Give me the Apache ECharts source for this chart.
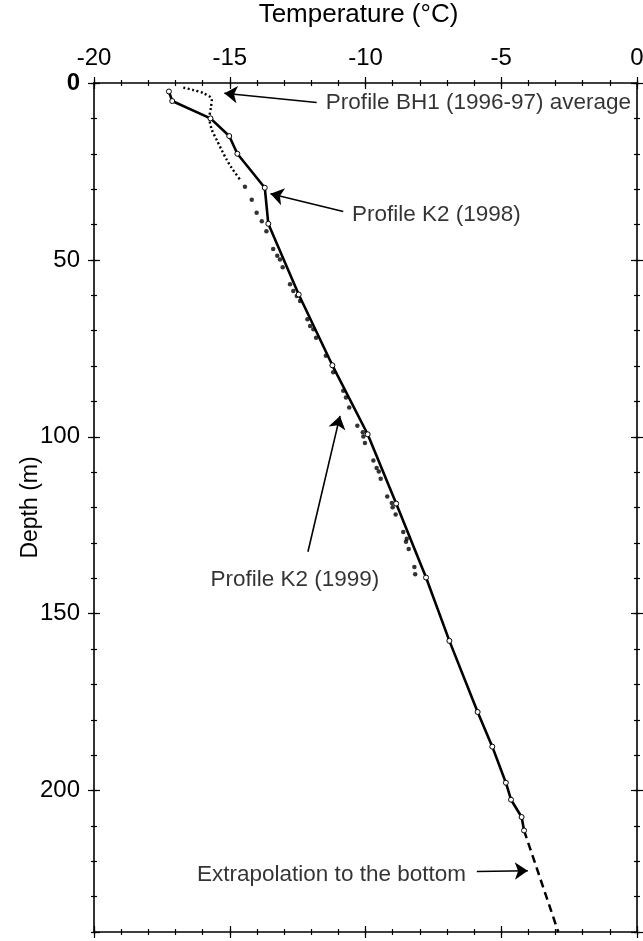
<!DOCTYPE html>
<html>
<head>
<meta charset="utf-8">
<script src="https://cdn.jsdelivr.net/npm/echarts@6/dist/echarts.min.js"></script>
<style>
  html, body { margin: 0; padding: 0; background: #fff; }
  #chart { width: 643px; height: 941px; }
</style>
</head>
<body>
<div id="chart"></div>
<script>
// temperature (°C) vs depth (m)
const k2_1998_temp  = [-17.24, -17.12, -15.71, -15.02, -14.72, -13.71, -13.58, -12.46, -11.22, -9.92, -8.87, -7.77, -6.91, -5.87, -5.33, -4.83, -4.64, -4.25, -4.16];
const k2_1998_depth = [2.4, 5.1, 10, 15, 20, 29.6, 39.8, 59.8, 79.8, 99.3, 118.9, 139.8, 157.7, 177.8, 187.6, 197.8, 202.6, 207.5, 211.3];

const extrap_temp  = [-4.16, -2.9];
const extrap_depth = [211.3, 240];

const bh1_temp  = [-16.71, -16.34, -15.97, -15.66, -15.69, -15.75, -15.66, -15.48, -15.30, -15.11, -14.93, -14.62];
const bh1_depth = [1.3, 2.0, 2.9, 4.6, 6.7, 9.9, 13.2, 16.1, 18.9, 21.7, 24.0, 27.3];

const k2_1999_temp = [-14.44, -14.19, -14.01, -13.82, -13.65, -13.40, -13.25, -13.15, -13.05, -12.78, -12.66, -12.53, -12.41,
  -12.14, -12.04, -11.92, -11.82, -11.46, -11.19, -10.82, -10.72, -10.60, -10.30, -10.10, -10.08, -10.02, -9.71, -9.59,
  -9.51, -9.44, -9.20, -9.03, -9.00, -8.89, -8.61, -8.48, -8.51, -8.41, -8.20, -8.17];
const k2_1999_depth = [29.3, 33.0, 36.7, 39.1, 41.9, 46.9, 48.8, 49.9, 52.1, 56.9, 58.8, 60.2, 61.6,
  66.8, 68.7, 69.6, 72.0, 77.1, 81.8, 87.0, 88.9, 91.7, 96.9, 98.7, 99.9, 101.8, 106.7, 108.8,
  109.8, 111.9, 116.9, 118.7, 119.9, 122.0, 126.9, 128.8, 129.7, 131.7, 136.8, 138.9];

// annotations: text anchor and arrow tail -> head, in data units
const noteText  = ['Profile BH1 (1996-97) average', 'Profile K2 (1998)', 'Profile K2 (1999)', 'Extrapolation to the bottom'];
const noteAt    = [[-11.46, 5.6], [-10.50, 37.2], [-12.60, 140.4], [-6.30, 223.7]];
const noteAlign = ['left', 'left', 'center', 'right'];
const arrowFrom = [[-11.80, 5.5], [-10.82, 36.3], [-12.12, 132.5], [-5.90, 222.9]];
const arrowTo   = [[-15.20, 2.9], [-13.50, 31.3], [-10.94, 94.1], [-4.02, 222.7]];

const FONT = 'Liberation Sans, Arial, Helvetica, sans-serif';
const zip = (a, b) => a.map((v, i) => [v, b[i]]);

const chart = echarts.init(document.getElementById('chart'));

// extra axes that only draw ticks (to get ticks crossing the frame)
function tickAxis(pos, min, max, step, len, inside) {
  return {
    type: 'value', position: pos, min: min, max: max, interval: step,
    inverse: pos === 'left' || pos === 'right',
    axisLine: { show: false, onZero: false },
    axisLabel: { show: false },
    splitLine: { show: false },
    axisTick: { show: true, length: len, inside: inside, lineStyle: { color: '#000', width: 1.2 } }
  };
}

const frameLine = { show: true, onZero: false, lineStyle: { color: '#000', width: 1.6 } };

const xAxes = [
  {
    type: 'value', position: 'top', min: -20, max: 0, interval: 5,
    name: 'Temperature (°C)', nameLocation: 'middle', nameGap: 55, nameMoveOverlap: false,
    nameTextStyle: { fontFamily: FONT, fontSize: 26, color: '#000', padding: [0, 14, 0, 0] },
    axisLine: frameLine,
    axisTick: { show: true, length: 6, lineStyle: { color: '#000', width: 1.2 } },
    axisLabel: { fontFamily: FONT, fontSize: 24, color: '#000', margin: 13 },
    splitLine: { show: false }
  },
  tickAxis('top', -20, 0, 5, 6, true),
  tickAxis('top', -20, 0, 1, 3, true),
  tickAxis('top', -20, 0, 1, 3, false),
  Object.assign(tickAxis('bottom', -20, 0, 5, 6, false), { axisLine: frameLine }),
  tickAxis('bottom', -20, 0, 5, 6, true),
  tickAxis('bottom', -20, 0, 1, 3, true),
  tickAxis('bottom', -20, 0, 1, 3, false)
];

const yAxes = [
  {
    type: 'value', position: 'left', min: 0, max: 240, interval: 50, inverse: true,
    name: 'Depth (m)', nameLocation: 'middle', nameGap: 52, nameRotate: 90, nameMoveOverlap: false,
    nameTextStyle: { fontFamily: FONT, fontSize: 23, color: '#000' },
    axisLine: frameLine,
    axisTick: { show: true, length: 6, lineStyle: { color: '#000', width: 1.2 } },
    axisLabel: {
      fontFamily: FONT, fontSize: 24, color: '#000', margin: 14, showMaxLabel: false,
      formatter: v => (v === 0 ? '{b|0}' : String(v)),
      rich: { b: { fontFamily: FONT, fontSize: 24, fontWeight: 'bold', color: '#000' } }
    },
    splitLine: { show: false }
  },
  tickAxis('left', 0, 240, 50, 6, true),
  tickAxis('left', 0, 240, 10, 3, true),
  tickAxis('left', 0, 240, 10, 3, false),
  Object.assign(tickAxis('right', 0, 240, 50, 6, false), { axisLine: frameLine }),
  tickAxis('right', 0, 240, 50, 6, true),
  tickAxis('right', 0, 240, 10, 3, true),
  tickAxis('right', 0, 240, 10, 3, false)
];

const option = {
  backgroundColor: '#fff',
  animation: false,
  grid: { left: 94, right: 6, top: 83, bottom: 9, outerBoundsMode: 'none' },
  xAxis: xAxes,
  yAxis: yAxes,
  series: [
    {
      name: 'Profile BH1 (1996-97) average',
      type: 'line',
      data: zip(bh1_temp, bh1_depth),
      smooth: 0.3,
      symbol: 'none',
      lineStyle: { color: '#000', width: 2.4, type: [2, 2.5] },
      z: 3
    },
    {
      name: 'Profile K2 (1999)',
      type: 'scatter',
      data: zip(k2_1999_temp, k2_1999_depth),
      symbolSize: 4.5,
      itemStyle: { color: '#000' },
      z: 3
    },
    {
      name: 'Extrapolation',
      type: 'line',
      data: zip(extrap_temp, extrap_depth),
      symbol: 'none',
      lineStyle: { color: '#000', width: 2.5, type: [8, 5] },
      z: 4
    },
    {
      name: 'Profile K2 (1998)',
      type: 'line',
      data: zip(k2_1998_temp, k2_1998_depth),
      symbol: 'circle',
      symbolSize: 5,
      showAllSymbol: true,
      lineStyle: { color: '#000', width: 2.6 },
      itemStyle: { color: '#fff', borderColor: '#000', borderWidth: 1 },
      z: 5
    },
    {
      name: 'arrows',
      type: 'lines',
      coordinateSystem: 'cartesian2d',
      data: arrowFrom.map((p, i) => ({ coords: [p, arrowTo[i]] })),
      symbol: ['none', 'arrow'],
      symbolSize: [9, 13],
      lineStyle: { color: '#000', width: 1.6, opacity: 1 },
      z: 6
    },
    {
      name: 'notes',
      type: 'scatter',
      data: noteAt.map((p, i) => ({
        value: p, name: noteText[i],
        label: { align: noteAlign[i] }
      })),
      symbolSize: 0,
      label: {
        show: true, position: 'inside', formatter: '{b}',
        verticalAlign: 'middle',
        fontFamily: FONT, fontSize: 22.5, color: '#000'
      },
      z: 6
    }
  ]
};

chart.setOption(option);
</script>
</body>
</html>
